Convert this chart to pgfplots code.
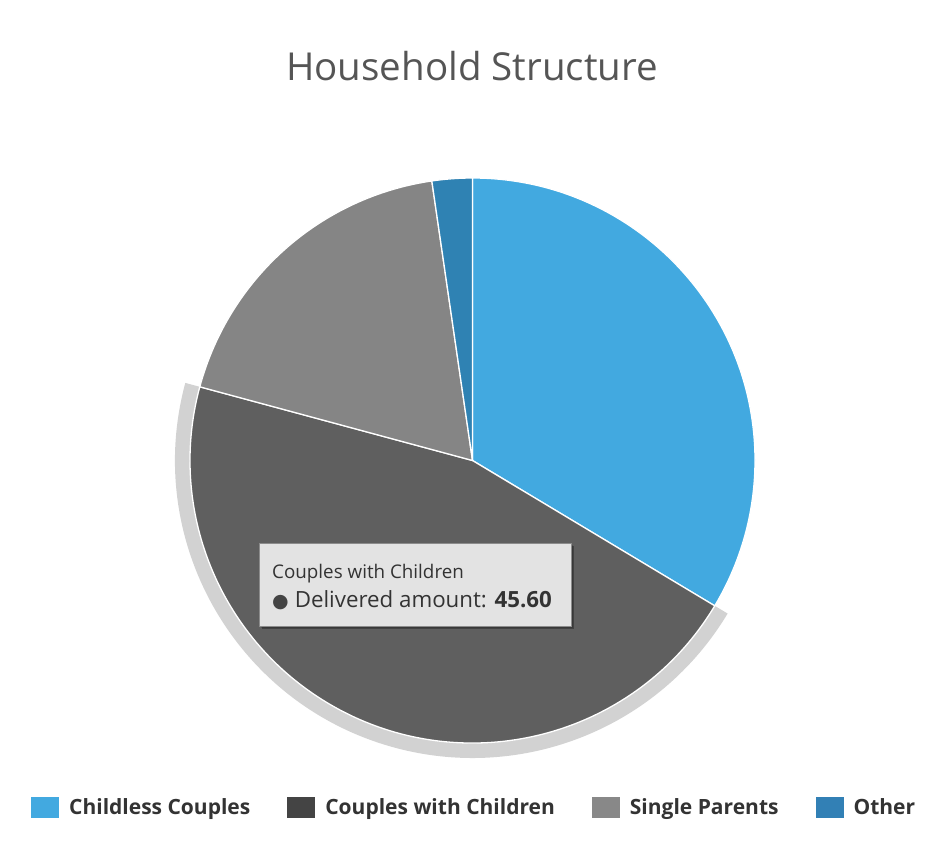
\documentclass[border=0pt]{standalone}
\usepackage{pgfplots}
\usepackage{pgfplotstable}
\pgfplotsset{compat=1.18}
\usepackage{fontspec}
\setmainfont{Open Sans}
\newfontfamily\dejavu{DejaVu Sans}

\definecolor{col0}{HTML}{42A9E0}
\definecolor{col1}{HTML}{5F5F5F}
\definecolor{col2}{HTML}{858585}
\definecolor{col3}{HTML}{2F82B3}
\definecolor{lg0}{HTML}{42A9E0}
\definecolor{lg1}{HTML}{444444}
\definecolor{lg2}{HTML}{888888}
\definecolor{lg3}{HTML}{3280B5}
\definecolor{halo}{HTML}{D2D2D2}
\definecolor{txt}{HTML}{333333}
\definecolor{ttl}{HTML}{555555}

\pgfplotstableread{
name value
ChildlessCouples 33.6
CouplesWithChildren 45.6
SingleParents 18.5
Other 2.3
}\piedata

\def\acc{0}
\pgfplotsforeachungrouped \i in {0,1,2,3}{%
  \pgfplotstablegetelem{\i}{value}\of\piedata
  \pgfmathsetmacro\sa{90-3.6*\acc}%
  \pgfmathsetmacro\acc{\acc+\pgfplotsretval}%
  \pgfmathsetmacro\ea{90-3.6*\acc}%
  \expandafter\xdef\csname sa\i\endcsname{\sa}%
  \expandafter\xdef\csname ea\i\endcsname{\ea}%
}

\begin{document}
\begin{tikzpicture}
\begin{axis}[
  width=940pt, height=847pt, scale only axis,
  xmin=0, xmax=940, ymin=0, ymax=847,
  hide axis, clip=false,
  legend columns=4,
  legend image code/.code={\fill[#1, draw=none] (0pt,-10.5pt) rectangle (28pt,10.5pt);},
  legend style={at={(axis cs:28,40)}, anchor=west, draw=none, fill=none,
    font=\fontsize{21}{25}\selectfont\bfseries, text=txt,
    nodes={inner sep=0pt},
    /tikz/every odd column/.append style={column sep=10pt},
    /tikz/every even column/.append style={column sep=37pt}},
]
\path (axis cs:0,0) rectangle (axis cs:940,847);
% halo of hovered slice
\edef\tmp{\noexpand\fill[halo] (axis cs:472.5,386.5) ++(\csname sa1\endcsname:282.5pt) arc[start angle=\csname sa1\endcsname, end angle=\csname ea1\endcsname, radius=282.5pt] -- ++(\csname ea1\endcsname:15pt) arc[start angle=\csname ea1\endcsname, end angle=\csname sa1\endcsname, radius=297.5pt] -- cycle;}
\tmp
\pgfplotsinvokeforeach{0,1,2,3}{%
  \edef\tmp{\noexpand\fill[col#1, draw=white, line width=1.3pt, line join=round] (axis cs:472.5,386.5) -- ++(\csname sa#1\endcsname:282.5pt) arc[start angle=\csname sa#1\endcsname, end angle=\csname ea#1\endcsname, radius=282.5pt] -- cycle;}%
  \tmp
}
% tooltip
\fill[black, opacity=0.3] (axis cs:262,301) rectangle (axis cs:574,218);
\fill[black, opacity=0.15] (axis cs:261,302) rectangle (axis cs:573,219.5);
\draw[fill=white!89!black, draw=white!55!black, line width=0.8pt] (axis cs:259,304) rectangle (axis cs:571,221);
\node[anchor=base west, inner sep=0pt, text=txt, font=\fontsize{18.8}{22}\selectfont] at (axis cs:272,269) {Couples with Children};
\node[anchor=base west, inner sep=0pt, text=txt, font=\fontsize{22.3}{26}\selectfont] at (axis cs:272,240) {{\color{lg1}\dejavu\fontsize{19}{22}\selectfont ●}\hspace{6pt}Delivered amount: \textbf{45.60}};
% title
\node[anchor=base, inner sep=0pt, text=ttl, font=\fontsize{38.5}{44}\selectfont] at (axis cs:472,766) {Household Structure};
% legend
\addlegendimage{fill=lg0}\addlegendentry{Childless Couples}
\addlegendimage{fill=lg1}\addlegendentry{Couples with Children}
\addlegendimage{fill=lg2}\addlegendentry{Single Parents}
\addlegendimage{fill=lg3}\addlegendentry{Other}
\end{axis}
\end{tikzpicture}
\end{document}
